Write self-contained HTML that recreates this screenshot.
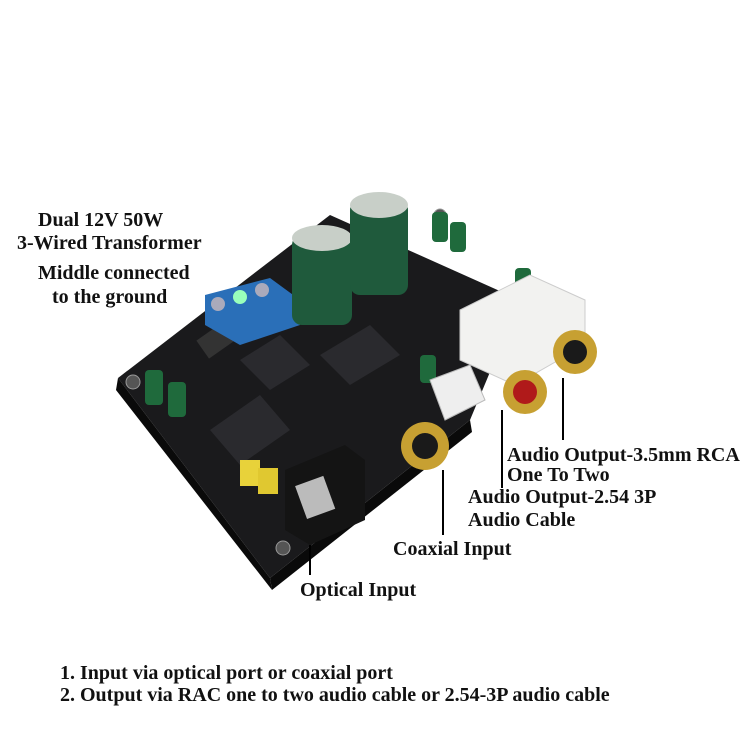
<!DOCTYPE html>
<html><head><meta charset="utf-8"><style>
html,body{margin:0;padding:0;background:#fff;}
body{width:750px;height:750px;overflow:hidden;position:relative;font-family:"Liberation Serif",serif;font-weight:bold;color:#111;}
.t{position:absolute;font-size:20px;white-space:nowrap;line-height:20px;}
svg{position:absolute;left:0;top:0;}
</style></head><body>
<svg width="750" height="750" viewBox="0 0 750 750">
<polygon points="118,378 330,215 520,300 470,420 270,578" fill="#1a1a1c"/>
<polygon points="118,378 270,578 272,590 116,390" fill="#0a0a0a"/>
<polygon points="270,578 470,420 472,432 272,590" fill="#0a0a0a"/>
<circle cx="133" cy="382" r="7" fill="#555" stroke="#999"/>
<circle cx="283" cy="548" r="7" fill="#555" stroke="#999"/>
<circle cx="440" cy="215" r="6" fill="#555" stroke="#999"/>
<polygon points="210,430 260,395 290,430 240,465" fill="#2a2a2e"/>
<polygon points="320,355 370,325 400,355 350,385" fill="#2a2a2e"/>
<polygon points="240,360 280,335 310,365 270,390" fill="#2a2a2e"/>
<rect x="200" y="330" width="30" height="22" fill="#333" transform="rotate(-35 215 341)"/>
<polygon points="205,295 270,278 300,300 300,325 240,345 205,325" fill="#2a6fb8"/>
<circle cx="240" cy="297" r="7" fill="#9fb"/><circle cx="262" cy="290" r="7" fill="#aab"/><circle cx="218" cy="304" r="7" fill="#aab"/>
<rect x="292" y="235" width="60" height="90" rx="10" fill="#1f5a3c"/>
<ellipse cx="322" cy="238" rx="30" ry="13" fill="#c8cfc8"/>
<rect x="350" y="200" width="58" height="95" rx="10" fill="#1f5a3c"/>
<ellipse cx="379" cy="205" rx="29" ry="13" fill="#c8cfc8"/>
<rect x="145" y="370" width="18" height="35" rx="4" fill="#1f6a3c"/>
<rect x="168" y="382" width="18" height="35" rx="4" fill="#1f6a3c"/>
<rect x="432" y="212" width="16" height="30" rx="4" fill="#1f6a3c"/>
<rect x="450" y="222" width="16" height="30" rx="4" fill="#1f6a3c"/>
<rect x="515" y="268" width="16" height="28" rx="4" fill="#1f6a3c"/>
<rect x="420" y="355" width="16" height="28" rx="4" fill="#1f6a3c"/>
<rect x="240" y="460" width="20" height="26" fill="#e8d23a"/>
<rect x="258" y="468" width="20" height="26" fill="#e0c830"/>
<polygon points="460,310 530,275 585,300 585,345 515,385 460,360" fill="#f2f2f0" stroke="#ccc"/>
<polygon points="430,380 470,365 485,400 445,420" fill="#eee" stroke="#bbb"/>
<circle cx="575" cy="352" r="22" fill="#c7a032"/><circle cx="575" cy="352" r="12" fill="#1a1a1a"/>
<circle cx="525" cy="392" r="22" fill="#c7a032"/><circle cx="525" cy="392" r="12" fill="#b01a1a"/>
<circle cx="425" cy="446" r="24" fill="#c7a032"/><circle cx="425" cy="446" r="13" fill="#1a1a1a"/>
<polygon points="285,470 345,445 365,460 365,520 310,545 285,530" fill="#141414"/>
<rect x="300" y="480" width="30" height="35" fill="#bbb" transform="rotate(-20 315 497)"/>
<line x1="563" y1="378" x2="563" y2="440" stroke="#000" stroke-width="2"/>
<line x1="502" y1="410" x2="502" y2="488" stroke="#000" stroke-width="2"/>
<line x1="443" y1="470" x2="443" y2="535" stroke="#000" stroke-width="2"/>
<line x1="310" y1="545" x2="310" y2="575" stroke="#000" stroke-width="2"/>
</svg>
<div class="t" style="left:38px;top:210px">Dual 12V 50W</div>
<div class="t" style="left:17px;top:233px">3-Wired Transformer</div>
<div class="t" style="left:38px;top:263px">Middle connected</div>
<div class="t" style="left:52px;top:287px">to the ground</div>
<div class="t" style="left:507px;top:445px">Audio Output-3.5mm RCA</div>
<div class="t" style="left:507px;top:465px">One To Two</div>
<div class="t" style="left:468px;top:487px">Audio Output-2.54 3P</div>
<div class="t" style="left:468px;top:510px">Audio Cable</div>
<div class="t" style="left:393px;top:539px">Coaxial Input</div>
<div class="t" style="left:300px;top:580px">Optical Input</div>
<div class="t" style="left:60px;top:663px">1. Input via optical port or coaxial port</div>
<div class="t" style="left:60px;top:685px">2. Output via RAC one to two audio cable or 2.54-3P audio cable</div>
</body></html>
